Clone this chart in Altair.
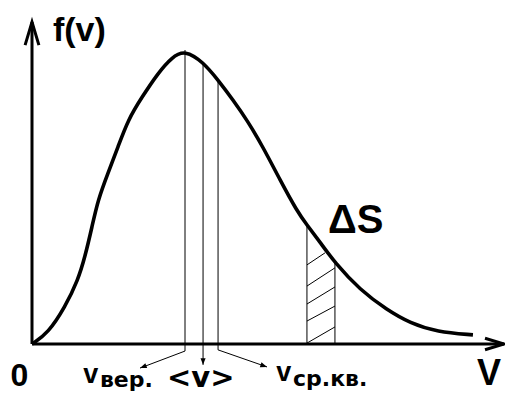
import altair as alt
import pandas as pd

# Maxwell speed distribution
# (v in units of the most probable speed, f normalised to the peak)
curve_v = [0.0, 0.105, 0.216, 0.301, 0.346, 0.392, 0.431, 0.497, 0.562, 0.627, 0.719,
           0.824, 0.915, 1.0, 1.118, 1.216, 1.314, 1.405, 1.51, 1.621, 1.732, 1.797,
           1.882, 1.98, 2.144, 2.32, 2.471, 2.647, 2.882]
curve_f = [0.0, 0.037, 0.126, 0.218, 0.296, 0.398, 0.49, 0.582, 0.67, 0.762, 0.84,
           0.922, 0.976, 1.0, 0.959, 0.898, 0.83, 0.762, 0.67, 0.558, 0.452, 0.405,
           0.347, 0.276, 0.184, 0.116, 0.071, 0.041, 0.031]

# characteristic speeds: v_вер, <v>, v_ср.кв. and the curve height there
speed_v = [1.0, 1.118, 1.216]
speed_f = [1.0, 0.959, 0.898]

# strip ΔS
strip_v = [1.797, 1.98]
strip_f = [0.405, 0.276]
hatch_x1 = [1.797, 1.797, 1.797, 1.797, 1.797]
hatch_y1 = [0.003, 0.078, 0.136, 0.197, 0.269]
hatch_x2 = [1.98, 1.98, 1.98, 1.98, 1.915]
hatch_y2 = [0.058, 0.129, 0.194, 0.259, 0.31]

XMIN, XMAX = -24 / 153, 473 / 153
YMIN, YMAX = -49 / 294, 336 / 294

xs = alt.Scale(domain=[XMIN, XMAX], nice=False, zero=False)
ys = alt.Scale(domain=[YMIN, YMAX], nice=False, zero=False)
X = alt.X("x:Q", scale=xs, axis=None)
Y = alt.Y("y:Q", scale=ys, axis=None)

curve = alt.Chart(pd.DataFrame({"x": curve_v, "y": curve_f})).mark_line(
    color="black", strokeWidth=3.6, interpolate="basis"
).encode(x=X, y=Y)

# axes
axes_df = pd.DataFrame({"x": [0, 0], "y": [0, 0], "x2": [0, 3.085], "y2": [1.095, 0]})
axes = alt.Chart(axes_df).mark_rule(color="black", strokeWidth=3).encode(
    x=X, y=Y, x2="x2:Q", y2="y2:Q")

# thin guide lines
seg_x1, seg_y1, seg_x2, seg_y2 = [], [], [], []
drops = [-0.024, -0.071, -0.02]
for v, f, d in zip(speed_v, speed_f, drops):
    seg_x1.append(v); seg_y1.append(f); seg_x2.append(v); seg_y2.append(d)
seg_x1 += [speed_v[0], speed_v[2]]
seg_y1 += [drops[0], drops[2]]
seg_x2 += [0.706, 1.536]
seg_y2 += [-0.082, -0.078]
for v, f in zip(strip_v, strip_f):
    seg_x1.append(v); seg_y1.append(0); seg_x2.append(v); seg_y2.append(f)
seg_x1 += hatch_x1; seg_y1 += hatch_y1; seg_x2 += hatch_x2; seg_y2 += hatch_y2
thin = alt.Chart(pd.DataFrame({"x": seg_x1, "y": seg_y1, "x2": seg_x2, "y2": seg_y2})).mark_rule(
    color="black", strokeWidth=1).encode(x=X, y=Y, x2="x2:Q", y2="y2:Q")

# small arrow heads
small_df = pd.DataFrame({"x": [0.706, 1.118, 1.536], "y": [-0.082, -0.071, -0.078],
                         "a": [249, 180, 109]})
small_heads = alt.Chart(small_df).mark_point(
    filled=True, color="black", opacity=1, size=180,
    shape="M0,0 L-0.38,1 L0.38,1 Z").encode(
    x=X, y=Y, angle=alt.Angle("a:Q", scale=None))

# big axis arrow heads
big_df = pd.DataFrame({"x": [0, 3.085], "y": [1.095, 0], "a": [0, 90], "s": [2116, 1444]})
big_heads = alt.Chart(big_df).mark_point(
    filled=False, color="black", opacity=1, strokeWidth=3,
    shape="M-0.3,1 L0,0 L0.3,1").encode(
    x=X, y=Y, angle=alt.Angle("a:Q", scale=None), size=alt.Size("s:Q", scale=None))


def label(texts, xs_, ys_, font, size):
    df = pd.DataFrame({"x": xs_, "y": ys_, "t": texts})
    return alt.Chart(df).mark_text(
        align="left", baseline="alphabetic", font=font, fontSize=size,
        fontWeight="bold", color="black").encode(x=X, y=Y, text="t:N")

L = "Liberation Sans"
D = "DejaVu Sans"
labels = [
    label(["f(v)"], [0.137], [1.031], L, 34),
    label(["ΔS"], [1.935], [0.378], L, 40),
    label(["0"], [-0.14], [-0.1429], L, 32),
    label(["V"], [2.908], [-0.1395], L, 36),
    label(["v", "v"], [0.335, 1.597], [-0.1327, -0.1259], L, 27),
    label(["вер.", "ср.кв."], [0.444, 1.706], [-0.1463, -0.1429], D, 22),
    label(["<v>"], [0.882], [-0.1463], D, 29),
]

chart = alt.layer(thin, axes, curve, small_heads, big_heads, *labels).properties(
    width=497, height=385, padding=0,
    autosize=alt.AutoSizeParams(type="none"),
    background="white",
).configure_view(stroke=None)

chart.save("out.html", embed_options={"renderer": "svg", "actions": False})
